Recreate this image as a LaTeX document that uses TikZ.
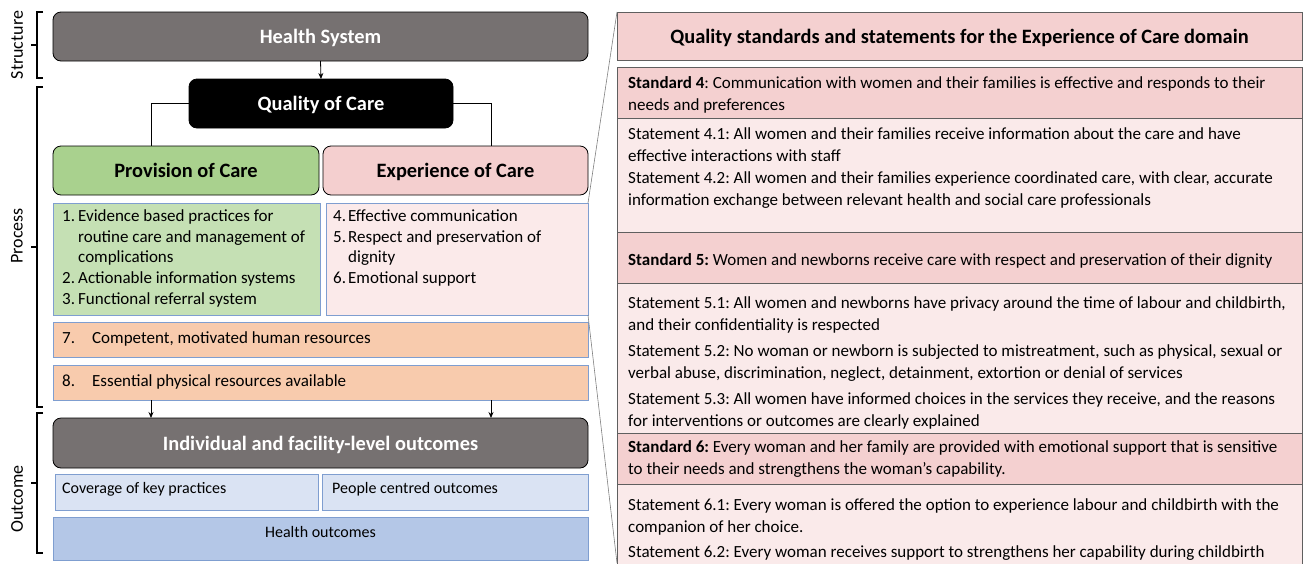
\documentclass[tikz,border=0pt]{standalone}
\usepackage{fontspec}
\setmainfont{Carlito}
\usetikzlibrary{arrows.meta}
\frenchspacing
\definecolor{hsgray}{HTML}{767171}
\definecolor{provgreen}{HTML}{A9D18E}
\definecolor{exppink}{HTML}{F4CFCF}
\definecolor{lgreen}{HTML}{C5E0B4}
\definecolor{lpink}{HTML}{FBEAEA}
\definecolor{orng}{HTML}{F8CBAD}
\definecolor{bedge}{HTML}{7F9ED0}
\definecolor{lblue}{HTML}{DAE3F3}
\definecolor{mblue}{HTML}{B4C7E7}
\definecolor{pedge}{HTML}{5F5F5F}
\definecolor{hdpink}{HTML}{F4D0D0}
\definecolor{stpink}{HTML}{FAEAEA}
\begin{document}
\begin{tikzpicture}[x=1pt,y=-1pt,
  rbox/.style={rounded corners=8pt, draw=black, line width=0.8pt, inner sep=0, outer sep=0, anchor=north west},
  sbox/.style={draw=bedge, line width=0.8pt, inner sep=0, outer sep=0, anchor=north west},
  pbox/.style={draw=pedge, line width=0.8pt, inner sep=0, outer sep=0, anchor=north west},
  head/.style={font=\frenchspacing\bfseries\fontsize{20.4}{24}\selectfont, text height=14pt, text depth=0pt},
  body/.style={font=\frenchspacing\fontsize{17}{20.7}\selectfont, anchor=base west, inner sep=0},
  stmt/.style={font=\frenchspacing\fontsize{17}{22}\selectfont, anchor=base west, inner sep=0},
  small/.style={font=\frenchspacing\fontsize{16}{19}\selectfont, anchor=base west, inner sep=0},
  vlab/.style={font=\fontsize{18}{21}\selectfont, rotate=90, inner sep=0},
  brk/.style={line width=2.4pt, black},
  ln/.style={line width=0.8pt, black},
  arr/.style={line width=0.8pt, black, -{Stealth[length=6pt,width=5pt]}},
  fun/.style={line width=0.6pt, pedge!80}
]
\useasboundingbox (0,0) rectangle (1304,563);

% ---------- left column ----------
\node[rbox, fill=hsgray, minimum width=535, minimum height=49, text=white, head] (hs) at (53,12) {Health System};
\node[rbox, fill=black, minimum width=264, minimum height=49, text=white, head] (qoc) at (189,79) {Quality of Care};
\node[rbox, fill=provgreen, minimum width=266, minimum height=49, head] (prov) at (53,146) {Provision of Care};
\node[rbox, fill=exppink, minimum width=265, minimum height=49, head] (exp) at (323,146) {Experience of Care};

\node[sbox, fill=lgreen, minimum width=267, minimum height=112] (gl) at (53,203) {};
\node[sbox, fill=lpink, minimum width=262, minimum height=112] (pl) at (326,203) {};
\node[body] (gltxt) at (62,221.5) {\parbox[t]{255pt}{\makebox[16pt][l]{1.}Evidence based practices for\\
\hspace*{16pt}routine care and management of\\
\hspace*{16pt}complications\\
\makebox[16pt][l]{2.}Actionable information systems\\
\makebox[16pt][l]{3.}Functional referral system}};
\node[body] (pltxt) at (333,221.5) {\parbox[t]{250pt}{\makebox[15pt][l]{4.}Effective communication\\
\makebox[15pt][l]{5.}Respect and preservation of\\
\hspace*{15pt}dignity\\
\makebox[15pt][l]{6.}Emotional support}};

\node[sbox, fill=orng, minimum width=535, minimum height=35] (o7) at (53,322) {};
\node[sbox, fill=orng, minimum width=535, minimum height=35] (o8) at (53,365) {};
\node[body] (o7txt) at (62,343) {\makebox[30pt][l]{7.}Competent, motivated human resources};
\node[body] (o8txt) at (62,386) {\makebox[30pt][l]{8.}Essential physical resources available};

\node[rbox, fill=hsgray, minimum width=535, minimum height=50, text=white, head] (ind) at (53,418) {Individual and facility-level outcomes};
\node[sbox, fill=lblue, minimum width=263, minimum height=36] (cov) at (55,474) {};
\node[sbox, fill=lblue, minimum width=266, minimum height=36] (ppl) at (322,474) {};
\node[sbox, fill=mblue, minimum width=535, minimum height=43] (ho) at (53,517) {};
\node[small] (covtxt) at (62,493.5) {Coverage of key practices};
\node[small] (ppltxt) at (332,493.5) {People centred outcomes};
\node[small, anchor=base] (hotxt) at (320.5,537.5) {Health outcomes};

% connectors
\draw[arr] (hs.south) -- (qoc.north);
\draw[ln] (qoc.west) -| ([xshift=-35pt]prov.north);
\draw[ln] (qoc.east) -| ([xshift=35.5pt]exp.north);
\draw[arr] ([xshift=-169.5pt]o8.south) -- ([xshift=-169.5pt]ind.north);
\draw[arr] ([xshift=170.5pt]o8.south) -- ([xshift=170.5pt]ind.north);

% brackets and labels
\draw[brk] (43,12) -- (37,12) -- (37,78) -- (43,78);
\draw[brk] (37,45) -- (31,45);
\draw[brk] (43,87) -- (37,87) -- (37,407) -- (43,407);
\draw[brk] (37,247) -- (31,247);
\draw[brk] (43,413) -- (37,413) -- (37,553) -- (43,553);
\draw[brk] (37,483) -- (31,483);
\node[vlab] (lstruct) at (17,45) {Structure};
\node[vlab] (lproc) at (17,236) {Process};
\node[vlab] (lout) at (17,499) {Outcome};

% ---------- right panel ----------
\node[pbox, fill=hdpink, minimum width=685, minimum height=48, head] (title) at (617,12) {Quality standards and statements for the Experience of Care domain};
\node[pbox, fill=hdpink, minimum width=685, minimum height=51] (h4) at (617,67) {};
\node[pbox, fill=stpink, minimum width=685, minimum height=114] (b4) at (617,118) {};
\node[pbox, fill=hdpink, minimum width=685, minimum height=51] (h5) at (617,232) {};
\node[pbox, fill=stpink, minimum width=685, minimum height=150] (b5) at (617,283) {};
\node[pbox, fill=hdpink, minimum width=685, minimum height=51] (h6) at (617,433) {};
\node[pbox, fill=stpink, minimum width=685, minimum height=90] (b6) at (617,484) {};

\node[stmt] (t4) at (628,88) {\parbox[t]{670pt}{\textbf{Standard 4}: Communication with women and their families is effective and responds to their\\needs and preferences}};
\node[stmt] (t41) at (628,139) {\parbox[t]{670pt}{Statement 4.1: All women and their families receive information about the care and have\\effective interactions with staff}};
\node[stmt] (t42) at (628,183) {\parbox[t]{670pt}{Statement 4.2: All women and their families experience coordinated care, with clear, accurate\\information exchange between relevant health and social care professionals}};
\node[stmt] (t5) at (628,265) {\parbox[t]{670pt}{\textbf{Standard 5:} Women and newborns receive care with respect and preservation of their dignity}};
\node[stmt] (t51) at (628,308) {\parbox[t]{670pt}{Statement 5.1: All women and newborns have privacy around the time of labour and childbirth,\\and their confidentiality is respected}};
\node[stmt] (t52) at (628,356) {\parbox[t]{670pt}{Statement 5.2: No woman or newborn is subjected to mistreatment, such as physical, sexual or\\verbal abuse, discrimination, neglect, detainment, extortion or denial of services}};
\node[stmt] (t53) at (628,404) {\parbox[t]{670pt}{Statement 5.3: All women have informed choices in the services they receive, and the reasons\\for interventions or outcomes are clearly explained}};
\node[stmt] (t6) at (628,452) {\parbox[t]{670pt}{\textbf{Standard 6:} Every woman and her family are provided with emotional support that is sensitive\\to their needs and strengthens the woman’s capability.}};
\node[stmt] (t61) at (628,510) {\parbox[t]{670pt}{Statement 6.1: Every woman is offered the option to experience labour and childbirth with the\\companion of her choice.}};
\node[stmt] (t62) at (628,557) {\parbox[t]{670pt}{Statement 6.2: Every woman receives support to strengthens her capability during childbirth}};

% funnel
\coordinate (fb) at (617,563);
\draw[fun] (pl.north east) -- (title.north west);
\draw[fun] (pl.south east) -- (fb);
\end{tikzpicture}
\end{document}
